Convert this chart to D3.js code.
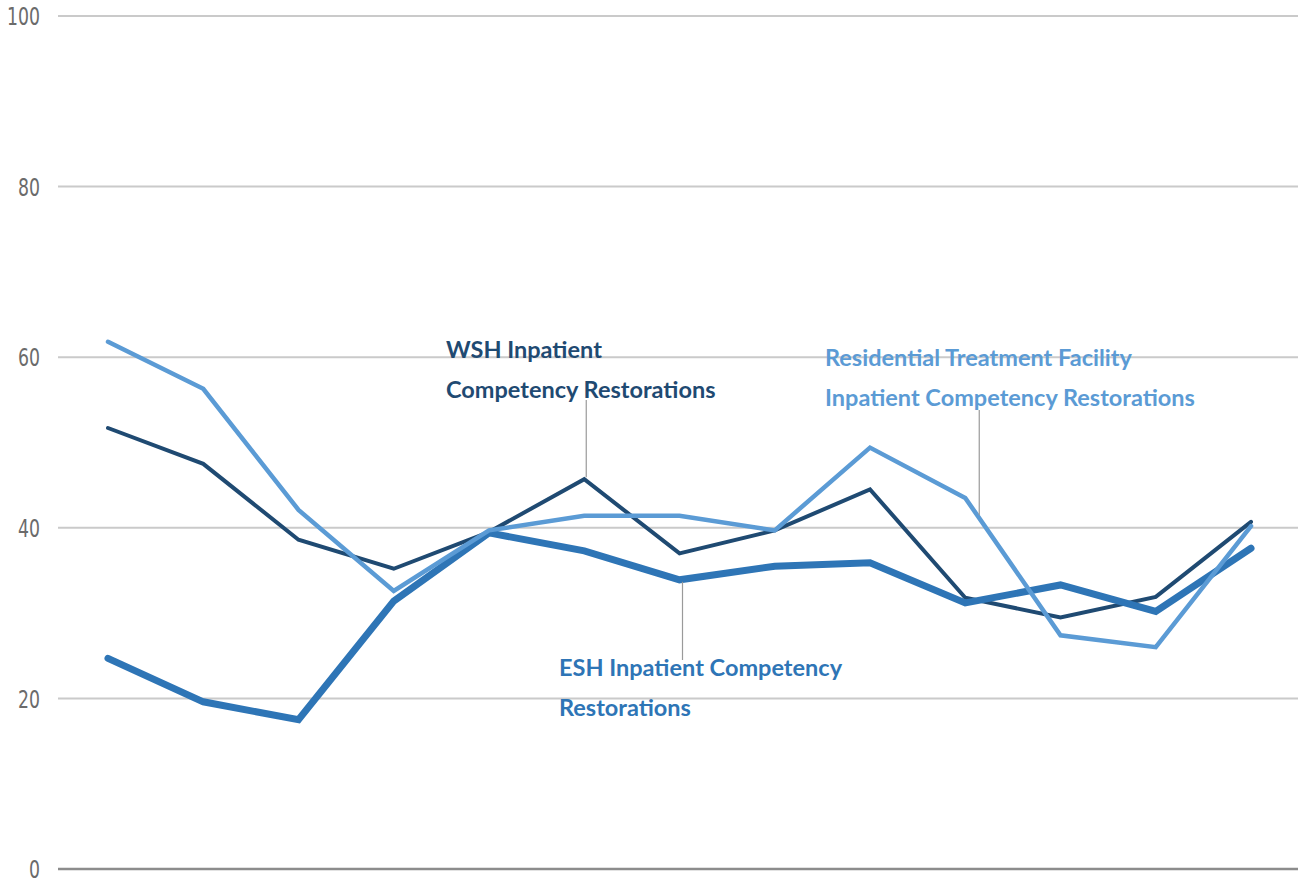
<!DOCTYPE html>
<html><head><meta charset="utf-8">
<script src="https://cdn.jsdelivr.net/npm/d3@7"></script>
<style>body{margin:0;background:#fff}svg{display:block}</style>
</head><body>
<svg id="c" width="1306" height="886"></svg>
<script>
const categories = ["1","2","3","4","5","6","7","8","9","10","11","12","13"];
const wsh = [51.7, 47.5, 38.6, 35.2, 39.5, 45.7, 37.0, 39.7, 44.5, 31.8, 29.5, 31.9, 40.7];
const residential = [61.8, 56.3, 42.1, 32.6, 39.7, 41.4, 41.4, 39.7, 49.4, 43.5, 27.4, 26.0, 40.2];
const esh = [24.7, 19.6, 17.5, 31.4, 39.4, 37.3, 33.9, 35.5, 35.9, 31.2, 33.3, 30.2, 37.6];
const yTicks = [0, 20, 40, 60, 80, 100];

const svg = d3.select("#c");
const x = d3.scalePoint().domain(categories).range([108, 1251]);
const y = d3.scaleLinear().domain([0, 100]).range([869, 16]);
const font = "Lato,'DejaVu Sans Condensed',sans-serif";

// gridlines
svg.append("g").selectAll("line").data(yTicks).join("line")
  .attr("x1", 58).attr("x2", 1298)
  .attr("y1", d => y(d)).attr("y2", d => y(d))
  .attr("stroke", d => d === 0 ? "#8c8c8c" : "#cacaca")
  .attr("stroke-width", d => d === 0 ? 2.5 : 2);

const yAxis = d3.axisLeft(y).tickValues(yTicks).tickSize(0).tickPadding(0);
const ga = svg.append("g").attr("transform", "translate(40,0)").call(yAxis);
ga.select(".domain").remove();
ga.selectAll(".tick text")
  .attr("font-family", "'DejaVu Sans Condensed',sans-serif")
  .attr("font-size", 24).attr("fill", "#6b6b6b").attr("dy", "0.36em")
  .attr("x", 0)
  .attr("transform", "scale(0.8,1)");

const line = d3.line().x((d, i) => x(categories[i])).y(d => y(d));

const series = [
  {vals: wsh, color: "#1f4a72", w: 4},
  {vals: residential, color: "#5b9bd5", w: 4.5},
  {vals: esh, color: "#2e75b6", w: 7}
];
[series[0], series[2], series[1]].forEach(s => {
  svg.append("path").attr("d", line(s.vals)).attr("fill", "none")
    .attr("stroke", s.color).attr("stroke-width", s.w)
    .attr("stroke-linejoin", "miter").attr("stroke-linecap", "round");
});

// leader lines
const leaders = [
  {x: x(categories[5]) + 2, y1: 400, y2: y(wsh[5]) - 2},
  {x: x(categories[9]) + 14, y1: 410, y2: 515},
  {x: x(categories[6]) + 3, y1: y(esh[6]) + 2, y2: 660}
];
svg.append("g").selectAll("line").data(leaders).join("line")
  .attr("x1", d => d.x).attr("x2", d => d.x).attr("y1", d => d.y1).attr("y2", d => d.y2)
  .attr("stroke", "#9a9a9a").attr("stroke-width", 1.2);

const labels = [
  {lines: ["WSH Inpatient", "Competency Restorations"], x: 446, y: 358, color: "#1f4a72"},
  {lines: ["Residential Treatment Facility", "Inpatient Competency Restorations"], x: 825, y: 366, color: "#5b9bd5"},
  {lines: ["ESH Inpatient Competency", "Restorations"], x: 559, y: 676, color: "#2e75b6"}
];
labels.forEach(l => {
  const t = svg.append("text").attr("x", l.x).attr("y", l.y)
    .attr("font-family", font).attr("font-size", 23.5).attr("font-weight", 700).attr("fill", l.color);
  l.lines.forEach((s, i) => t.append("tspan").attr("x", l.x).attr("dy", i ? 40 : 0).text(s));
});
</script>
</body></html>
